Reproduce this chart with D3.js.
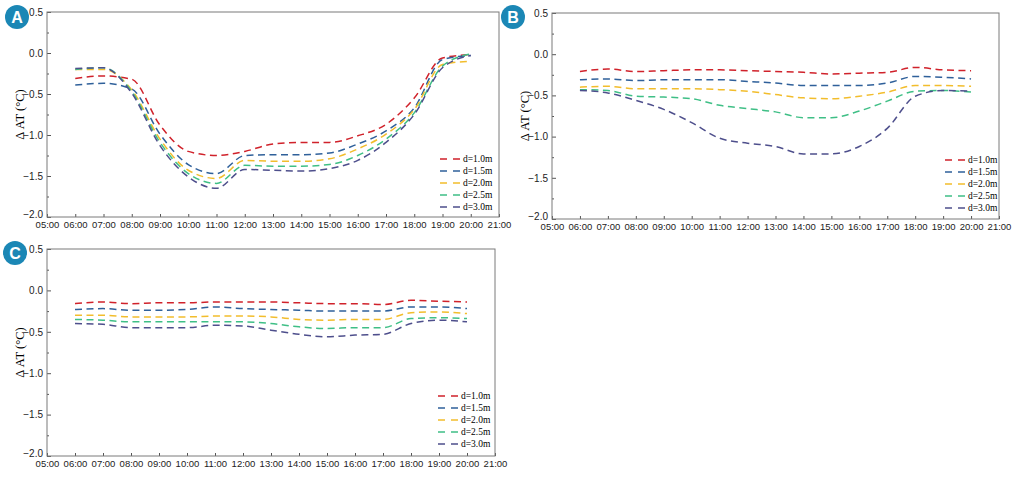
<!DOCTYPE html>
<html>
<head>
<meta charset="utf-8">
<script src="https://cdn.jsdelivr.net/npm/d3@7"></script>
<style>
  body { margin:0; background:#fff; }
  svg { font-family:"Liberation Serif","Times New Roman",serif; }
  .frame { fill:none; stroke:#7a7a7a; stroke-width:1; }
  .axis path { display:none; }
  .axis line { stroke:#555; }
  .axis text { fill:#222; }
</style>
</head>
<body>
<svg width="1015" height="477"></svg>
<script>
// hours on x axis
const hours = [6,7,8,9,10,11,12,13,14,15,16,17,18,19,20];
const seriesNames = ['d=1.0m','d=1.5m','d=2.0m','d=2.5m','d=3.0m'];
const seriesColors = ['#d0222b','#2f609a','#f2bd2c','#3fbf86','#4e4f8c'];
const xTicks = [5,6,7,8,9,10,11,12,13,14,15,16,17,18,19,20,21];
const yTicks = [0.5,0,-0.5,-1.0,-1.5,-2.0];

// panel A
const aD10 = [-0.31,-0.28,-0.32,-0.88,-1.20,-1.25,-1.20,-1.11,-1.09,-1.09,-1.01,-0.87,-0.55,-0.06,-0.02];
const aD15 = [-0.39,-0.37,-0.44,-0.99,-1.36,-1.47,-1.25,-1.24,-1.24,-1.22,-1.11,-0.95,-0.67,-0.08,-0.03];
const aD20 = [-0.20,-0.20,-0.45,-1.05,-1.43,-1.53,-1.31,-1.32,-1.32,-1.29,-1.17,-0.99,-0.69,-0.14,-0.10];
const aD25 = [-0.20,-0.18,-0.47,-1.09,-1.47,-1.59,-1.37,-1.38,-1.38,-1.36,-1.25,-1.05,-0.73,-0.16,-0.01];
const aD30 = [-0.19,-0.18,-0.49,-1.13,-1.51,-1.65,-1.42,-1.43,-1.44,-1.41,-1.31,-1.09,-0.75,-0.18,-0.03];

// panel B
const bD10 = [-0.21,-0.18,-0.21,-0.20,-0.19,-0.19,-0.20,-0.21,-0.22,-0.24,-0.23,-0.22,-0.16,-0.19,-0.20];
const bD15 = [-0.31,-0.30,-0.32,-0.31,-0.31,-0.31,-0.33,-0.35,-0.38,-0.38,-0.38,-0.35,-0.27,-0.28,-0.30];
const bD20 = [-0.40,-0.39,-0.42,-0.42,-0.42,-0.43,-0.45,-0.49,-0.53,-0.54,-0.51,-0.46,-0.38,-0.38,-0.39];
const bD25 = [-0.43,-0.44,-0.51,-0.52,-0.54,-0.62,-0.66,-0.70,-0.77,-0.77,-0.69,-0.57,-0.45,-0.44,-0.46];
const bD30 = [-0.44,-0.47,-0.56,-0.67,-0.83,-1.02,-1.08,-1.12,-1.21,-1.21,-1.12,-0.90,-0.51,-0.44,-0.45];

// panel C
const cD10 = [-0.16,-0.14,-0.16,-0.15,-0.15,-0.14,-0.14,-0.14,-0.15,-0.16,-0.16,-0.17,-0.12,-0.13,-0.14];
const cD15 = [-0.23,-0.22,-0.24,-0.24,-0.23,-0.20,-0.22,-0.23,-0.24,-0.25,-0.25,-0.25,-0.20,-0.20,-0.22];
const cD20 = [-0.30,-0.30,-0.32,-0.32,-0.32,-0.31,-0.31,-0.32,-0.35,-0.36,-0.35,-0.35,-0.27,-0.26,-0.28];
const cD25 = [-0.35,-0.36,-0.38,-0.38,-0.38,-0.38,-0.38,-0.40,-0.44,-0.46,-0.45,-0.45,-0.34,-0.33,-0.34];
const cD30 = [-0.40,-0.41,-0.45,-0.45,-0.45,-0.42,-0.43,-0.48,-0.53,-0.56,-0.54,-0.53,-0.40,-0.36,-0.38];

const svg = d3.select('svg');

function drawPanel(p){
    const g = svg.append('g');
    const xScale = d3.scaleLinear().domain([5,21]).range([p.left,p.right]);
    const yScale = d3.scaleLinear().domain([-2,0.5]).range([p.bottom,p.top]);

    //Axes, ticks pointing inward
    const xAxis = d3.axisBottom(xScale)
        .tickValues(xTicks)
        .tickSize(-3)
        .tickPadding(4)
        .tickFormat(h => String(h).padStart(2,'0')+':00');
    g.append('g').attr('class','axis')
        .attr('transform','translate(0,'+p.bottom+')')
        .call(xAxis)
        .selectAll('text').style('font-size','9.5px');

    const yAxis = d3.axisLeft(yScale)
        .tickValues(yTicks)
        .tickSize(-4)
        .tickPadding(4)
        .tickFormat(d3.format('.1f'));
    g.append('g').attr('class','axis')
        .attr('transform','translate('+p.left+',0)')
        .call(yAxis)
        .selectAll('text').style('font-size','10px')
        .filter(d => d === -2)
        .attr('dy','0.05em');   // lift the bottom label clear of 05:00

    const yMinor = d3.axisLeft(yScale)
        .tickValues([0.25,-0.25,-0.75,-1.25,-1.75])
        .tickSize(-2)
        .tickFormat('');
    g.append('g').attr('class','axis')
        .attr('transform','translate('+p.left+',0)')
        .call(yMinor);

    //frame
    g.append('rect').attr('class','frame')
        .attr('x',p.left).attr('y',p.top)
        .attr('width',p.right-p.left).attr('height',p.bottom-p.top);

    //axis title
    g.append('text')
        .attr('transform','translate('+(p.left-27)+','+((p.top+p.bottom)/2)+') rotate(-90)')
        .attr('text-anchor','middle')
        .attr('dy','0.35em')
        .style('font-size','12.5px')
        .text('Δ AT (°C)');

    //lines
    const line = d3.line()
        .x((d,i) => xScale(hours[i]))
        .y(d => yScale(d))
        .curve(d3.curveMonotoneX);
    g.selectAll('path.series')
        .data(p.series)
        .join('path')
        .attr('class','series')
        .attr('d', d => line(d))
        .attr('fill','none')
        .attr('stroke',(d,i) => seriesColors[i])
        .attr('stroke-width',1.5)
        .attr('stroke-dasharray','7,4.5');

    //legend
    const leg = g.append('g').attr('transform','translate('+p.legX+','+p.legY+')');
    seriesNames.forEach((name,i) => {
        leg.append('line')
            .attr('x1',0).attr('x2',21)
            .attr('y1',i*12).attr('y2',i*12)
            .attr('stroke',seriesColors[i])
            .attr('stroke-width',1.5)
            .attr('stroke-dasharray','7,6');
        leg.append('text')
            .attr('x',23).attr('y',i*12)
            .attr('dy','0.35em')
            .style('font-size','9.5px')
            .text(name);
    });

    //badge
    svg.append('circle')
        .attr('cx',p.badgeX).attr('cy',p.badgeY).attr('r',12)
        .attr('fill','#1b87b5');
    svg.append('text')
        .attr('x',p.badgeX).attr('y',p.badgeY)
        .attr('dy','0.36em')
        .attr('text-anchor','middle')
        .style('font-family','"Liberation Sans",Arial,sans-serif')
        .style('font-weight','bold')
        .style('font-size','16px')
        .attr('fill','#fff')
        .text(p.label);
}

drawPanel({label:'A', left:47, right:499, top:12, bottom:217,
    series:[aD10,aD15,aD20,aD25,aD30], legX:440, legY:159, badgeX:17, badgeY:17});
drawPanel({label:'B', left:552, right:999, top:13, bottom:219,
    series:[bD10,bD15,bD20,bD25,bD30], legX:945, legY:160, badgeX:513, badgeY:17});
drawPanel({label:'C', left:47, right:495, top:249, bottom:456,
    series:[cD10,cD15,cD20,cD25,cD30], legX:438, legY:396, badgeX:15, badgeY:253});
</script>
</body>
</html>
